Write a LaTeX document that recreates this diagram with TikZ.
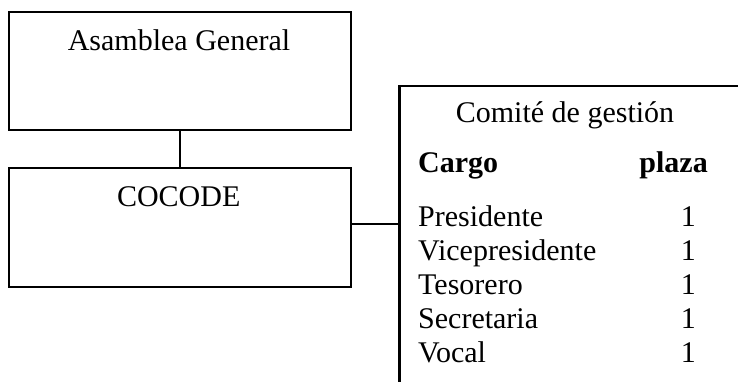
\documentclass[tikz,border=0pt]{standalone}
\usepackage{fontspec}
\setmainfont{Liberation Serif}
\begin{document}
\begin{tikzpicture}[x=1pt,y=-1pt,
  box/.style={draw=black, line width=2pt, rectangle, inner sep=0pt},
  bigbox/.style={draw=black, line width=2.8pt, rectangle, inner sep=0pt},
  conn/.style={draw=black, line width=1.3pt},
  txt/.style={inner sep=0pt, font=\fontsize{30}{34}\selectfont},
  btxt/.style={inner sep=0pt, font=\fontsize{30}{34}\selectfont\bfseries}]
\useasboundingbox (0,0) rectangle (738,381);
\clip (0,0) rectangle (738,381);
% boxes
\node[box, minimum width=342pt, minimum height=118pt] (asamblea) at (180,71) {};
\node[box, minimum width=342pt, minimum height=119pt] (cocode) at (180,227.5) {};
\node[bigbox, anchor=north west, minimum width=380pt, minimum height=340pt] (comite) at (398,84.5) {};
% connectors
\draw[conn] (asamblea.south) -- (cocode.north);
\draw[conn] ([yshift=3.5pt]cocode.east) -- ([yshift=3.5pt]cocode.east -| comite.west);
% texts
\node[txt, anchor=base] (tA) at (179,50.5) {Asamblea General};
\node[txt, anchor=base] (tC) at (178.7,206.5) {COCODE};
\node[txt, anchor=base] (tT) at (565,122) {Comité de gestión};
\node[btxt, anchor=base west] (hc) at (418,172) {Cargo};
\node[btxt, anchor=base east] (hp) at (708,172) {plaza};
\node[txt, anchor=base west] (r1) at (418,226) {Presidente};
\node[txt, anchor=base west] (r2) at (418,260) {Vicepresidente};
\node[txt, anchor=base west] (r3) at (418,294) {Tesorero};
\node[txt, anchor=base west] (r4) at (418,328) {Secretaria};
\node[txt, anchor=base west] (r5) at (418,362) {Vocal};
\node[txt, anchor=base east] (n1) at (696,226) {1};
\node[txt, anchor=base east] (n2) at (696,260) {1};
\node[txt, anchor=base east] (n3) at (696,294) {1};
\node[txt, anchor=base east] (n4) at (696,328) {1};
\node[txt, anchor=base east] (n5) at (696,362) {1};
\end{tikzpicture}
\end{document}
